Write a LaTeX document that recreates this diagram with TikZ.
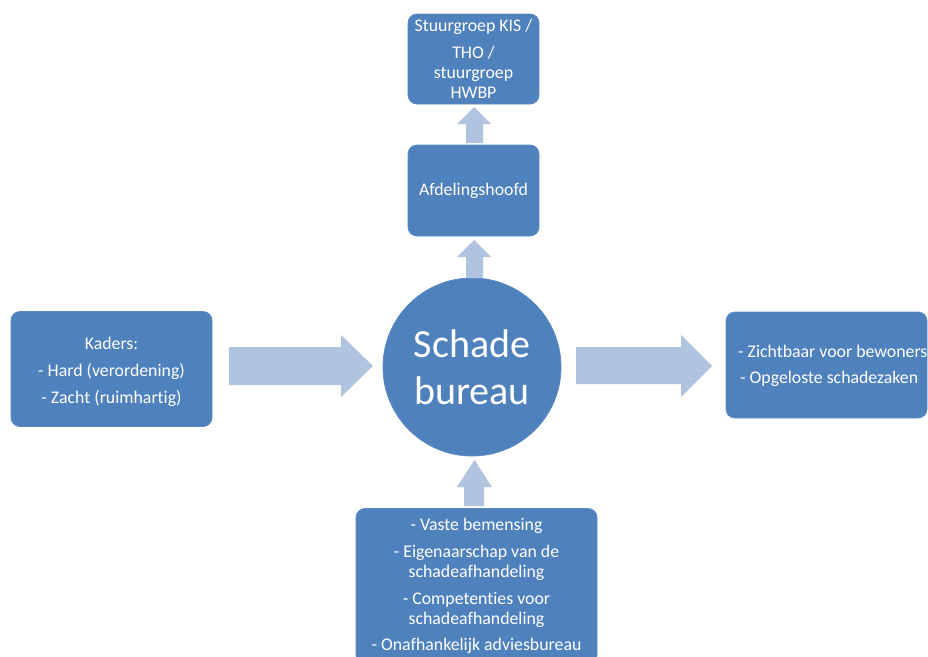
\documentclass[tikz,border=0pt]{standalone}
\usepackage{fontspec}
\setmainfont[Ligatures={NoCommon}]{Carlito}
\definecolor{boxblue}{HTML}{4F81BD}
\definecolor{boxedge}{HTML}{5B8AC4}
\definecolor{arrowblue}{HTML}{B0C3DF}
\begin{document}
\begin{tikzpicture}[x=1pt,y=-1pt,
  box/.style={draw=boxedge,line width=0.8pt,fill=boxblue,rounded corners=9pt,
    text=white,align=center,inner sep=0pt,
    font=\fontsize{17.8}{20}\selectfont},
  boxtext/.style={text=white,align=center,inner sep=0pt,
    font=\fontsize{17.8}{20}\selectfont},
  blockarrow/.style={fill=arrowblue,draw=none}]
\useasboundingbox (0,0) rectangle (928,656);
% nodes
\node[box,minimum width=131pt,minimum height=90pt] (top) at (473.5,59)
  {Stuurgroep KIS /\\[7pt]THO /\\stuurgroep\\HWBP};
\node[box,minimum width=131pt,minimum height=91pt] (afd) at (473.5,190.5)
  {Afdelingshoofd};
\node[circle,fill=boxblue,draw=boxedge,line width=0.8pt,minimum size=178pt,
  inner sep=0pt,text=white,align=center,
  font=\fontsize{40}{47}\selectfont] (circ) at (472,367) {Schade\\bureau};
\node[box,minimum width=201pt,minimum height=115pt] (kad) at (111.5,369) {};
\node[boxtext] (kadtext) at ([yshift=-2.5pt]kad.center)
  {Kaders:\\[7pt]- Hard (verordening)\\[7pt]- Zacht (ruimhartig)};
\node[box,minimum width=201pt,minimum height=106pt] (res) at (826.5,365) {};
\node[boxtext,anchor=west,align=left] (restext) at (738,366)
  {- Zichtbaar voor bewoners\\[6pt]\hspace{2pt}- Opgeloste schadezaken};
\node[box,minimum width=241pt,minimum height=155pt] (bot) at (476.5,586)
  {- Vaste bemensing\\[7pt]- Eigenaarschap van de\\schadeafhandeling\\[7pt]- Competenties voor\\schadeafhandeling\\[6pt]- Onafhankelijk adviesbureau};
% block arrows
% afd -> top
\fill[blockarrow] (466,143) -- (466,124) -- (457,124) -- (474,107) -- (491,124)
  -- (483,124) -- (483,143) -- cycle;
% circ -> afd
\fill[blockarrow] (466,278) -- (466,257) -- (457,257) -- (474,240) -- (491,257)
  -- (483,257) -- (483,278) -- cycle;
% bot -> circ
\fill[blockarrow] (464,506) -- (464,487) -- (457,487) -- (474.5,460) -- (492,487)
  -- (484,487) -- (484,506) -- cycle;
% kad -> circ
\fill[blockarrow] (229,347) -- (341,347) -- (341,335) -- (373,366) -- (341,397)
  -- (341,385) -- (229,385) -- cycle;
% circ -> res
\fill[blockarrow] (576,347) -- (681,347) -- (681,335) -- (712,366) -- (681,397)
  -- (681,384) -- (576,384) -- cycle;
\end{tikzpicture}
\end{document}
